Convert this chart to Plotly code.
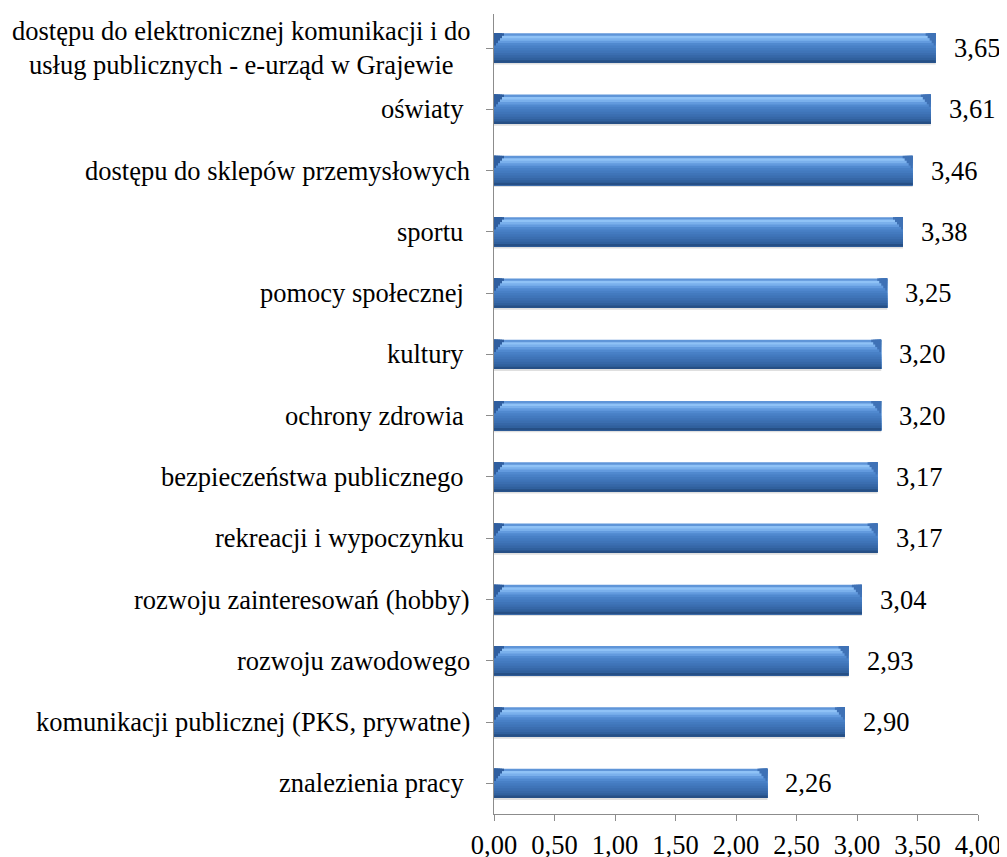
import plotly.graph_objects as go

categories = [
    "dostępu do elektronicznej komunikacji i do<br>usług publicznych - e-urząd w Grajewie",
    "oświaty\u00a0",
    "dostępu do sklepów przemysłowych",
    "sportu\u00a0",
    "pomocy społecznej\u00a0",
    "kultury\u00a0",
    "ochrony zdrowia\u00a0",
    "bezpieczeństwa publicznego\u00a0",
    "rekreacji i wypoczynku\u00a0",
    "rozwoju zainteresowań (hobby)",
    "rozwoju zawodowego",
    "komunikacji publicznej (PKS, prywatne)",
    "znalezienia pracy\u00a0",
]
values = [3.65, 3.61, 3.46, 3.38, 3.25, 3.20, 3.20, 3.17, 3.17, 3.04, 2.93, 2.90, 2.26]
value_labels = ["3,65", "3,61", "3,46", "3,38", "3,25", "3,20", "3,20", "3,17", "3,17", "3,04", "2,93", "2,90", "2,26"]
x_ticks = [0, 0.5, 1.0, 1.5, 2.0, 2.5, 3.0, 3.5, 4.0]

FONT = "Liberation Serif, Times New Roman, serif"
FS = 26.5

# gradient bands, from top of the bar to bottom
stripe_colors = [
    "#5f95d8", "#8fc2f6", "#7ab0ec", "#629ade", "#5089cf", "#4880c6",
    "#437abf", "#3f74b8", "#3b6eb0", "#3667a7", "#30609d", "#264f85",
]
BAR_W = 0.48
n = len(stripe_colors)
sw = BAR_W / n
PX = 4.0 / 484.0            # data units per pixel on the value axis
bevel_px = [10, 8, 6, 4, 2]  # stair-stepped bevel triangle at bar ends

fig = go.Figure()

# soft shadow below bars
fig.add_trace(go.Bar(
    y=categories, x=values, orientation="h",
    offset=-BAR_W / 2 - 0.03, width=0.05,
    marker=dict(color="rgba(110,110,110,0.22)", line=dict(width=0)),
    hoverinfo="skip", showlegend=False,
))

# each band covers from its top edge down to the bar bottom; later bands overdraw
for i, c in enumerate(stripe_colors):
    top = BAR_W / 2 - i * sw
    fig.add_trace(go.Bar(
        y=categories, x=values, orientation="h",
        offset=-BAR_W / 2, width=top + BAR_W / 2,
        marker=dict(color=c, line=dict(width=0)),
        hoverinfo="skip", showlegend=False,
    ))

# bevel facets at both bar ends
for j, bp in enumerate(bevel_px):
    w = bp * PX
    h = (j + 1) * sw
    fig.add_trace(go.Bar(
        y=categories, x=[w] * len(values), base=[v - w for v in values],
        orientation="h", offset=BAR_W / 2 - h, width=h,
        marker=dict(color="#3f72b6", line=dict(width=0)),
        hoverinfo="skip", showlegend=False,
    ))
    fig.add_trace(go.Bar(
        y=categories, x=[w] * len(values), base=[0] * len(values),
        orientation="h", offset=BAR_W / 2 - h, width=h,
        marker=dict(color="#2f5e9f", line=dict(width=0)),
        hoverinfo="skip", showlegend=False,
    ))

# value labels
for cat, v, lab in zip(categories, values, value_labels):
    fig.add_annotation(
        x=v, y=cat, text=lab, showarrow=False,
        xanchor="left", yanchor="middle", xshift=16,
        font=dict(family=FONT, size=FS, color="#000000"),
    )

# category labels (centered multi-line, right-anchored)
for cat in categories:
    fig.add_annotation(
        xref="paper", x=0, y=cat, text=cat, showarrow=False,
        xanchor="right", yanchor="middle", xshift=-22, align="center",
        font=dict(family=FONT, size=FS, color="#000000"),
    )

# the page has an 8px body margin, so the figure is sized/placed to compensate
fig.update_layout(
    width=999, height=849,
    margin=dict(l=486, r=29, t=6, b=43, autoexpand=False),
    paper_bgcolor="white", plot_bgcolor="white",
    barmode="overlay",
    separators=", ",
    showlegend=False,
    font=dict(family=FONT, size=FS, color="#000000"),
)
fig.update_xaxes(
    range=[0, 4], tickvals=x_ticks, tickformat=".2f",
    showgrid=False, zeroline=False, automargin=False,
    showline=True, linecolor="#8c8c8c", linewidth=1,
    ticks="outside", ticklen=6, tickcolor="#8c8c8c",
    ticklabelstandoff=1,
    tickfont=dict(family=FONT, size=FS, color="#000000"),
)
fig.update_yaxes(
    type="category", categoryorder="array", categoryarray=categories[::-1],
    showticklabels=False, showgrid=False, zeroline=False, automargin=False,
    showline=True, linecolor="#8c8c8c", linewidth=1,
    ticks="outside", ticklen=7, tickcolor="#8c8c8c",
)

fig.write_html("out.html")
